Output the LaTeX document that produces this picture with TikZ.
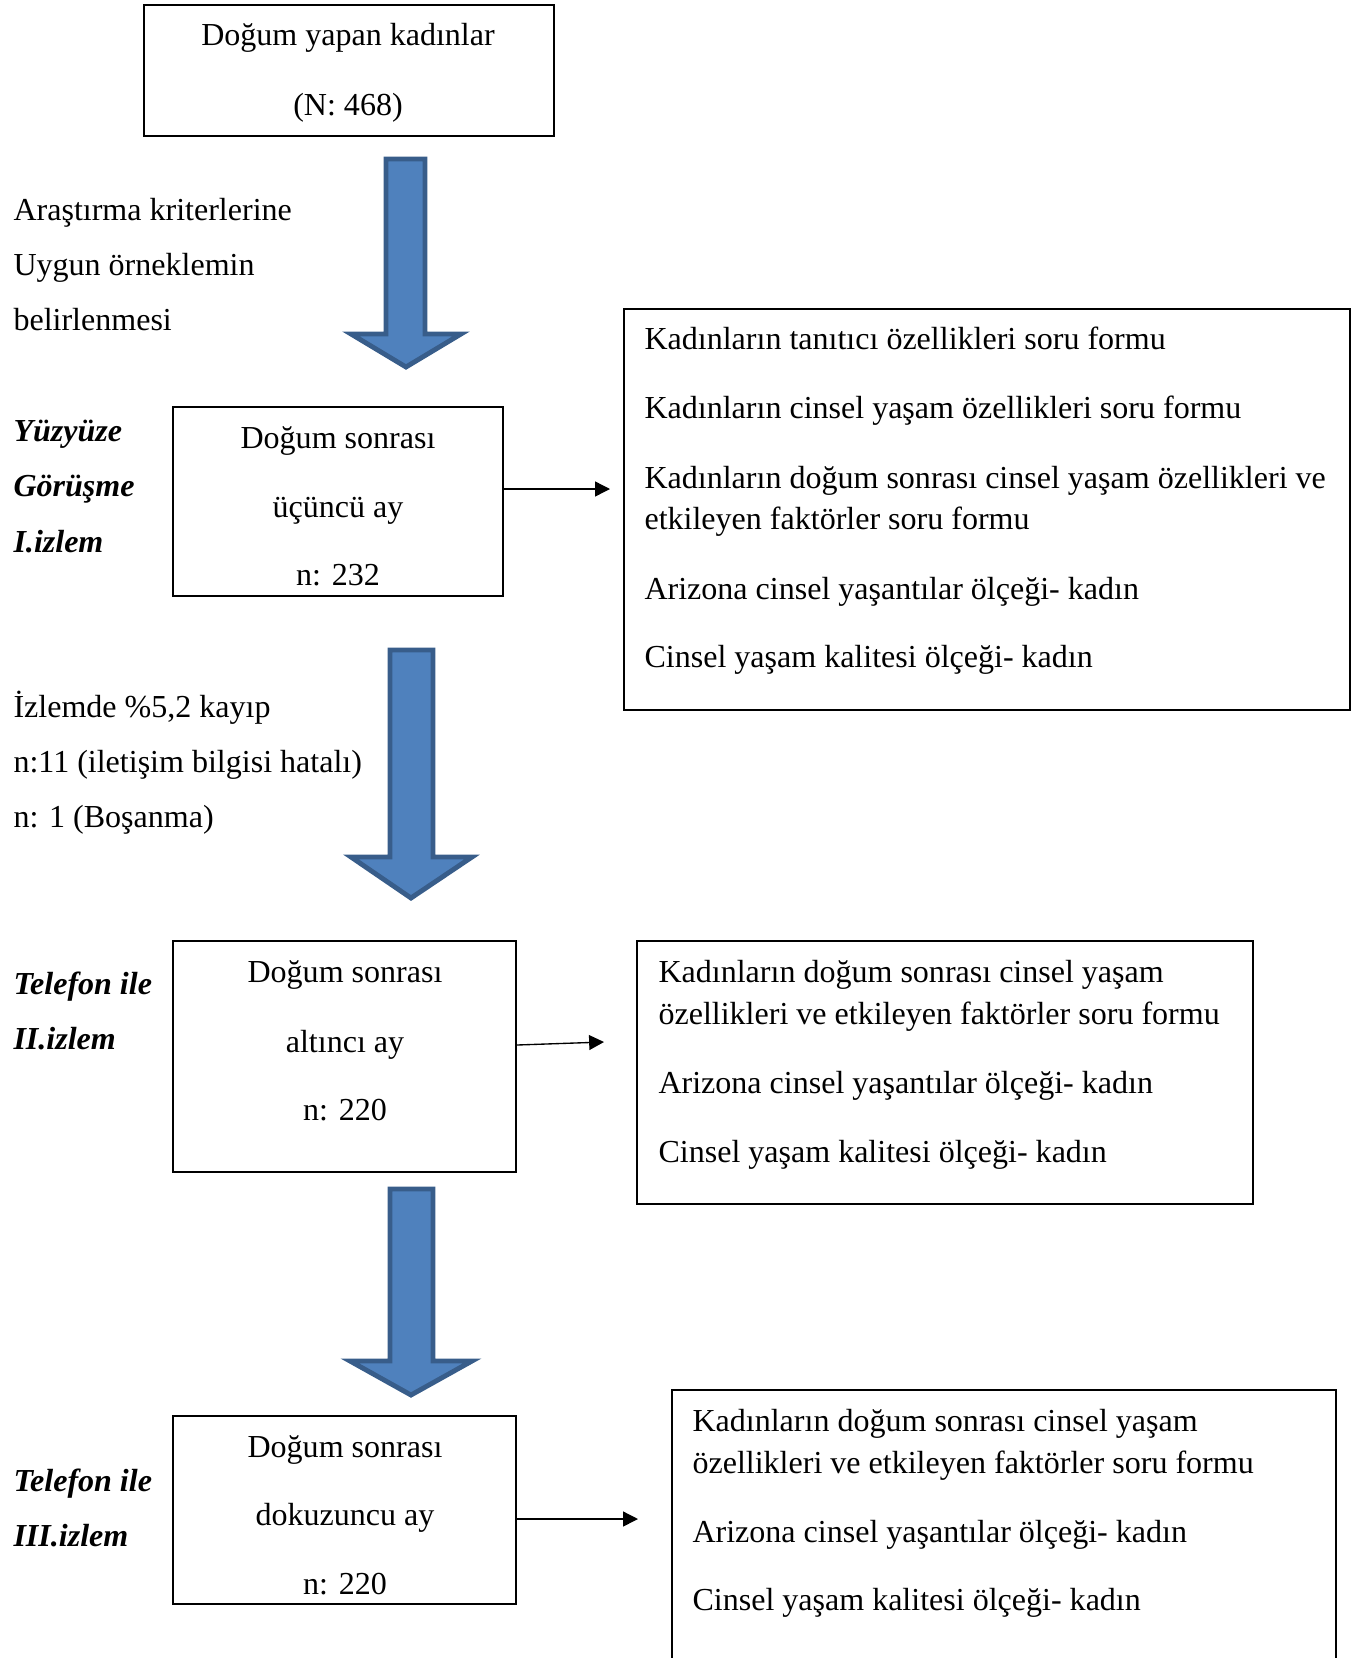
\documentclass[tikz,border=0pt]{standalone}
\usepackage{fontspec}
\setmainfont{Liberation Serif}
\usetikzlibrary{arrows.meta,fit}

\definecolor{okmavi}{HTML}{4F81BD}
\definecolor{okkenar}{HTML}{385D8A}

\tikzset{
    kutu/.style={draw, line width=0.8pt, inner sep=0pt},
    yazi/.style={anchor=base, inner sep=0pt, font=\fontsize{11.85}{14}\selectfont},
    solyazi/.style={yazi, anchor=base west},
    etiket/.style={solyazi, font=\fontsize{11.85}{14}\selectfont\bfseries\itshape},
    blokok/.style={fill=okmavi, draw=okkenar, line width=1.8pt},
    ok/.style={-{Triangle[length=5.5pt,width=5.5pt]}, line width=0.5pt}
}

\begin{document}
\begin{tikzpicture}[x=0.37pt, y=-0.37pt]
    \useasboundingbox (0,0) rectangle (1351,1658);

    % kutular
    \node[kutu, fit={(144,5) (554,136)}] (dogum) {};
    \node[kutu, fit={(173,407) (503,596)}] (izlem1) {};
    \node[kutu, fit={(173,941) (516,1172)}] (izlem2) {};
    \node[kutu, fit={(173,1416) (516,1604)}] (izlem3) {};
    \node[kutu, fit={(624,309) (1350,710)}] (form1) {};
    \node[kutu, fit={(637,941) (1253,1204)}] (form2) {};
    \node[kutu, fit={(672,1390) (1336,1700)}] (form3) {};

    % mavi oklar
    \draw[blokok] (386,159) -- (425,159) -- (425,334) -- (461,334) -- (406,367) -- (351,334) -- (386,334) -- cycle;
    \draw[blokok] (390,650) -- (433,650) -- (433,857) -- (472,857) -- (411,898) -- (351,857) -- (390,857) -- cycle;
    \draw[blokok] (390,1189) -- (433,1189) -- (433,1361) -- (472,1361) -- (411,1395) -- (350,1361) -- (390,1361) -- cycle;

    % ince oklar
    \coordinate (u1) at (610,489);
    \coordinate (u2) at (604,1042);
    \coordinate (u3) at (638,1519);
    \draw[ok] (izlem1.east |- u1) -- (u1);
    \draw[ok] (izlem2.east |- 0,1045) -- (u2);
    \draw[ok] (izlem3.east |- u3) -- (u3);

    % kutu yazilari
    \node[yazi] (dogum1) at (348,46) {Doğum yapan kadınlar};
    \node[yazi] (dogum2) at (348,115) {(N: 468)};

    \node[yazi] (izlem1a) at (338,448) {Doğum sonrası};
    \node[yazi] (izlem1b) at (338,517) {üçüncü ay};
    \node[yazi] (izlem1c) at (338,585) {n: 232};

    \node[yazi] (izlem2a) at (345,982) {Doğum sonrası};
    \node[yazi] (izlem2b) at (345,1052) {altıncı ay};
    \node[yazi] (izlem2c) at (345,1120) {n: 220};

    \node[yazi] (izlem3a) at (345,1457) {Doğum sonrası};
    \node[yazi] (izlem3b) at (345,1525) {dokuzuncu ay};
    \node[yazi] (izlem3c) at (345,1594) {n: 220};

    % sol notlar
    \node[solyazi] (not1a) at (13,220) {Araştırma kriterlerine};
    \node[solyazi] (not1b) at (13,275) {Uygun örneklemin};
    \node[solyazi] (not1c) at (13,330) {belirlenmesi};

    \node[solyazi] (not2a) at (13,717) {İzlemde \%5,2 kayıp};
    \node[solyazi] (not2b) at (13,772) {n:11 (iletişim bilgisi hatalı)};
    \node[solyazi] (not2c) at (13,827) {n: 1 (Boşanma)};

    \node[etiket] (et1a) at (13,441) {Yüzyüze};
    \node[etiket] (et1b) at (13,496) {Görüşme};
    \node[etiket] (et1c) at (13,552) {I.izlem};

    \node[etiket] (et2a) at (13,994) {Telefon ile};
    \node[etiket] (et2b) at (13,1049) {II.izlem};

    \node[etiket] (et3a) at (13,1491) {Telefon ile};
    \node[etiket] (et3b) at (13,1546) {III.izlem};

    % formlar
    \node[solyazi] (f1a) at (644,349) {Kadınların tanıtıcı özellikleri soru formu};
    \node[solyazi] (f1b) at (644,418) {Kadınların cinsel yaşam özellikleri soru formu};
    \node[solyazi] (f1c) at (644,488) {Kadınların doğum sonrası cinsel yaşam özellikleri ve};
    \node[solyazi] (f1d) at (644,529) {etkileyen faktörler soru formu};
    \node[solyazi] (f1e) at (644,599) {Arizona cinsel yaşantılar ölçeği- kadın};
    \node[solyazi] (f1f) at (644,667) {Cinsel yaşam kalitesi ölçeği- kadın};

    \node[solyazi] (f2a) at (658,982) {Kadınların doğum sonrası cinsel yaşam};
    \node[solyazi] (f2b) at (658,1024) {özellikleri ve etkileyen faktörler soru formu};
    \node[solyazi] (f2c) at (658,1093) {Arizona cinsel yaşantılar ölçeği- kadın};
    \node[solyazi] (f2d) at (658,1162) {Cinsel yaşam kalitesi ölçeği- kadın};

    \node[solyazi] (f3a) at (692,1431) {Kadınların doğum sonrası cinsel yaşam};
    \node[solyazi] (f3b) at (692,1473) {özellikleri ve etkileyen faktörler soru formu};
    \node[solyazi] (f3c) at (692,1542) {Arizona cinsel yaşantılar ölçeği- kadın};
    \node[solyazi] (f3d) at (692,1610) {Cinsel yaşam kalitesi ölçeği- kadın};
\end{tikzpicture}
\end{document}
